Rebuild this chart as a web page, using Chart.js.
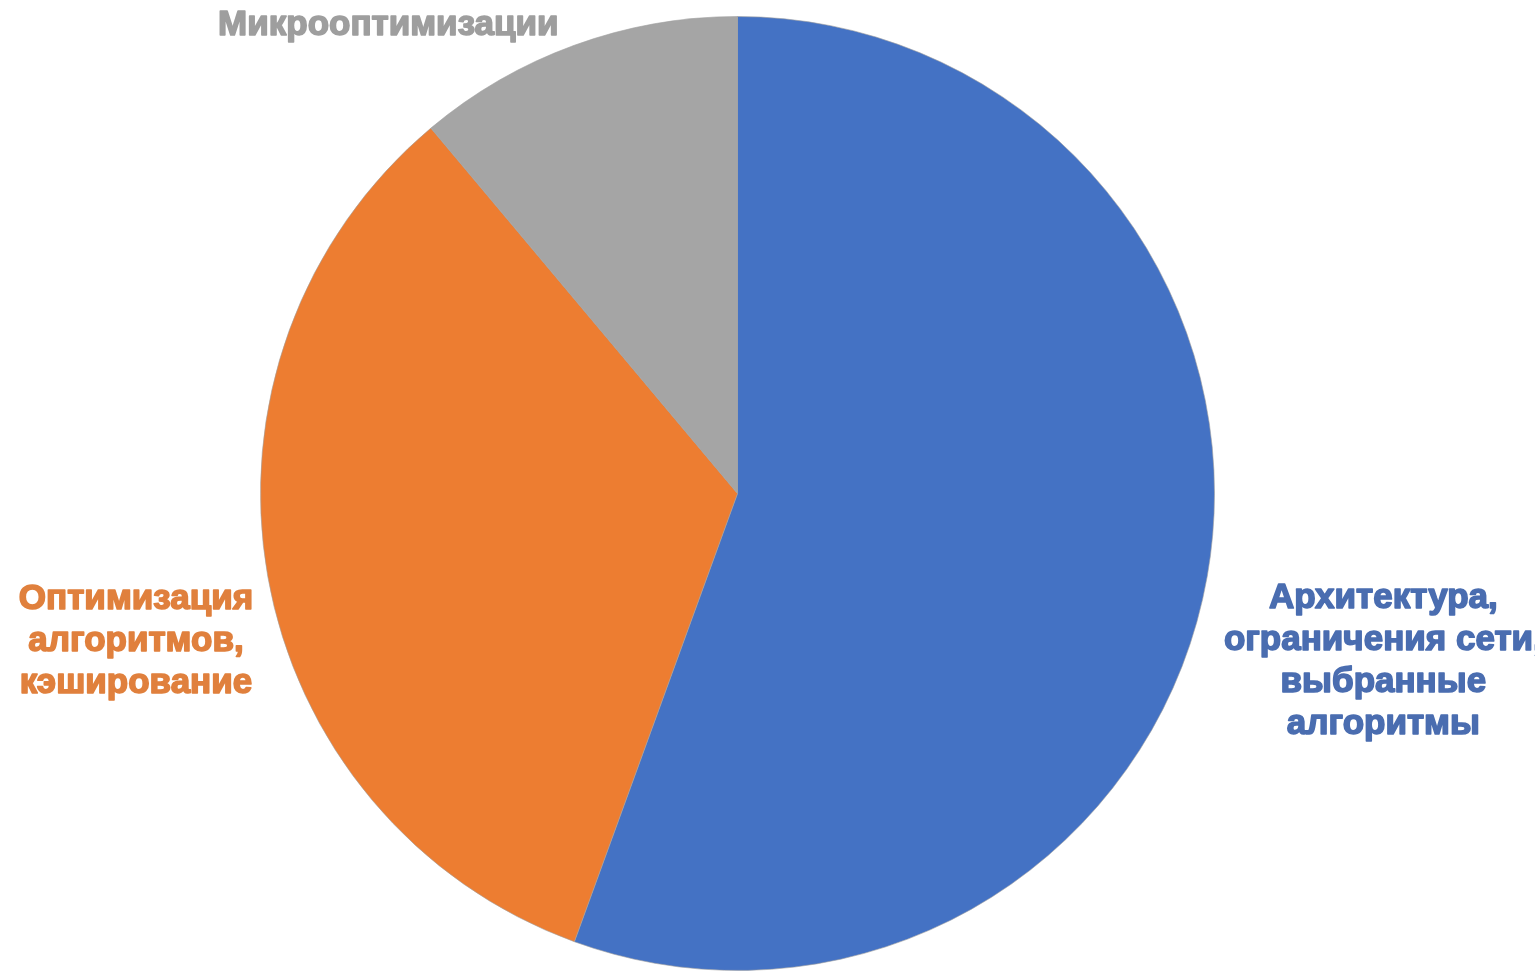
<!DOCTYPE html>
<html lang="ru">
<head>
  <meta charset="UTF-8">
  <title>Pie</title>
  <script src="https://cdn.jsdelivr.net/npm/chart.js@4.4.1/dist/chart.umd.min.js"></script>
  <style>
    html,body{margin:0;padding:0;background:#fff;overflow:hidden}
    #wrap{width:1535px;height:973px;position:relative}
  </style>
</head>
<body>
<div id="wrap"><canvas id="pie"></canvas></div>
<script>
/****  DATA  ****/
const labels=[
  ['Архитектура,','ограничения сети,','выбранные','алгоритмы'],
  ['Оптимизация','алгоритмов,','кэширование'],
  ['Микрооптимизации']
];
const values=[5,3,1];
const sliceColors=['#4472c4','#ed7d31','#a5a5a5'];
const labelColors=['#4a6db0','#e0803d','#9e9e9e'];

/****  label plugin: text placed relative to pie centre, in radius units  ****/
const labelSpots=[[1.354,0.351],[-1.261,0.309],[-0.732,-0.981]];
const outsideLabels={
  id:'outsideLabels',
  afterDatasetsDraw(chart){
    const ctx=chart.ctx,meta=chart.getDatasetMeta(0);
    const lh=42;
    ctx.save();
    ctx.font='bold 35px "Liberation Sans", Arial, sans-serif';
    ctx.textAlign='center';ctx.textBaseline='middle';
    ctx.lineWidth=1.6;ctx.lineJoin='round';
    meta.data.forEach((arc,i)=>{
      const r=arc.outerRadius;
      const cx=arc.x+labelSpots[i][0]*r, cy=arc.y+labelSpots[i][1]*r;
      const lines=labels[i];
      ctx.fillStyle=labelColors[i];ctx.strokeStyle=labelColors[i];
      lines.forEach((t,j)=>{
        const y=cy+(j-(lines.length-1)/2)*lh;
        ctx.strokeText(t,cx,y);ctx.fillText(t,cx,y);
      });
    });
    ctx.restore();
  }
};

new Chart(document.getElementById('pie'),{
  type:'pie',
  data:{labels:labels.map(l=>l.join(' ')),datasets:[{data:values,backgroundColor:sliceColors,borderColor:'rgba(160,160,160,0.6)',borderWidth:1}]},
  options:{
    responsive:true,maintainAspectRatio:false,animation:false,
    layout:{padding:{top:16,bottom:2,left:260,right:320}},
    plugins:{legend:{display:false},tooltip:{enabled:false}}
  },
  plugins:[outsideLabels]
});
</script>
</body>
</html>
